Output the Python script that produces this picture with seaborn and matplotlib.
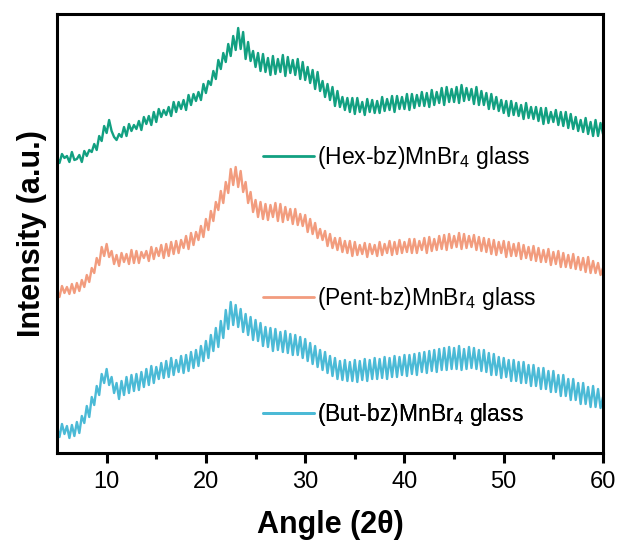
import numpy as np
import pandas as pd
import matplotlib
matplotlib.use("Agg")
import matplotlib.pyplot as plt
import seaborn as sns
from matplotlib.lines import Line2D

# ---- data (2theta grid 5..60 deg, step 0.25; intensities in a.u., stacked) ----
angle = np.round(np.arange(5.0, 60.001, 0.25), 2)

hex_glass = [
    296, 290, 299, 295,  297, 291, 301, 293,  294, 298, 291, 302,  297, 303, 301, 309,
    303, 317, 312, 327,  320, 333, 322, 316,  313, 319, 316, 326,  317, 329, 322, 328,
    324, 332, 323, 336,  329, 337, 328, 341,  331, 344, 336, 343,  338, 346, 337, 351,
    341, 351, 344, 353,  343, 358, 348, 359,  352, 361, 353, 369,  360, 372, 368, 382,
    374, 393, 384, 400,  391, 409, 397, 417,  403, 425, 404, 421,  394, 411, 392, 402,
    386, 400, 382, 399,  381, 395, 378, 397,  379, 394, 381, 398,  377, 396, 380, 393,
    378, 394, 374, 391,  373, 386, 370, 383,  364, 381, 362, 372,  356, 369, 353, 366,
    347, 362, 346, 356,  343, 355, 341, 355,  339, 355, 341, 351,  338, 354, 341, 353,
    340, 352, 340, 356,  342, 354, 343, 357,  341, 357, 344, 356,  344, 359, 343, 359,
    345, 358, 347, 361,  347, 360, 346, 363,  348, 361, 350, 365,  348, 366, 351, 364,
    351, 366, 350, 368,  352, 365, 353, 364,  349, 366, 348, 362,  348, 360, 344, 359,
    344, 356, 342, 353,  340, 352, 337, 352,  338, 350, 337, 348,  334, 350, 335, 346,
    334, 346, 332, 345,  329, 345, 330, 341,  331, 343, 328, 341,  327, 341, 325, 339,
    324, 336, 322, 333,  321, 335, 319, 331,  317, 333, 317, 330,  319,
]

pent_glass = [
    163, 156, 167, 160,  166, 159, 169, 160,  170, 162, 173, 166,  178, 171, 185, 180,
    195, 188, 206, 197,  209, 196, 202, 189,  198, 187, 200, 191,  199, 189, 203, 190,
    202, 190, 201, 195,  202, 192, 206, 194,  205, 197, 208, 195,  209, 197, 211, 199,
    212, 200, 213, 205,  217, 204, 220, 208,  221, 213, 227, 216,  234, 223, 242, 232,
    251, 243, 262, 250,  271, 260, 284, 268,  286, 266, 282, 261,  271, 250, 261, 241,
    253, 236, 251, 234,  249, 233, 248, 236,  250, 232, 249, 231,  246, 233, 244, 229,
    244, 228, 239, 227,  238, 221, 234, 219,  230, 215, 224, 213,  222, 207, 219, 205,
    215, 203, 215, 201,  212, 200, 212, 197,  211, 198, 208, 199,  210, 196, 209, 199,
    208, 197, 211, 198,  209, 200, 212, 198,  211, 199, 213, 200,  211, 201, 214, 200,
    214, 200, 212, 203,  215, 200, 216, 202,  214, 203, 217, 204,  218, 203, 219, 205,
    217, 206, 220, 204,  219, 205, 217, 206,  218, 203, 216, 202,  215, 201, 214, 199,
    213, 198, 211, 200,  212, 196, 211, 197,  209, 197, 210, 194,  208, 195, 206, 193,
    207, 192, 205, 191,  203, 191, 204, 188,  201, 189, 202, 186,  200, 186, 198, 185,
    199, 184, 196, 183,  195, 181, 196, 180,  192, 180, 190, 178,  185,
]

but_glass = [
    26, 16, 29, 19,  27, 15, 28, 17,  31, 20, 37, 30,  47, 36, 56, 48,
    67, 58, 79, 70,  84, 68, 76, 60,  70, 54, 72, 58,  76, 60, 78, 62,
    79, 63, 81, 66,  84, 68, 87, 70,  86, 74, 90, 75,  92, 76, 95, 78,
    93, 81, 97, 80,  98, 82, 101, 85,  103, 87, 107, 92,  112, 95, 118, 102,
    125, 106, 132, 115,  143, 124, 151, 128,  148, 126, 144, 121,  139, 118, 136, 113,
    133, 112, 130, 107,  126, 106, 125, 102,  124, 103, 121, 101,  122, 100, 119, 98,
    118, 98, 116, 95,  114, 92, 110, 89,  107, 86, 103, 83,  101, 80, 97, 77,
    95, 74, 92, 73,  93, 72, 91, 72,  93, 71, 92, 73,  94, 72, 93, 74,
    95, 74, 94, 75,  96, 74, 95, 76,  97, 76, 96, 78,  98, 77, 98, 79,
    99, 78, 100, 81,  101, 80, 102, 82,  103, 81, 104, 83,  105, 83, 106, 84,
    105, 84, 107, 83,  104, 84, 106, 85,  105, 84, 103, 82,  103, 81, 100, 78,
    99, 78, 96, 75,  95, 76, 93, 72,  93, 72, 91, 70,  91, 70, 88, 67,
    88, 67, 85, 64,  85, 64, 82, 61,  82, 61, 78, 57,  78, 57, 74, 53,
    74, 53, 70, 49,  70, 49, 66, 46,  67, 46, 64, 45,  56,
]

series_names = ["(Hex-bz)MnBr$_4$ glass", "(Pent-bz)MnBr$_4$ glass", "(But-bz)MnBr$_4$ glass"]
series_values = [hex_glass, pent_glass, but_glass]
colors = ["#12a081", "#f29c7e", "#4bbad6"]
x_ticks = [10, 20, 30, 40, 50, 60]

# ---- styling ----
sns.set_style("ticks")
plt.rcParams["font.family"] = ["Liberation Sans", "DejaVu Sans"]
plt.rcParams["mathtext.fontset"] = "custom"
plt.rcParams["mathtext.rm"] = "Liberation Sans"
plt.rcParams["mathtext.it"] = "Liberation Sans:italic"
plt.rcParams["mathtext.bf"] = "Liberation Sans:bold"
plt.rcParams["text.color"] = "black"
plt.rcParams["axes.labelcolor"] = "black"
plt.rcParams["xtick.color"] = "black"
plt.rcParams["ytick.color"] = "black"

fig = plt.figure(figsize=(6.2, 5.5), dpi=100)
ax = fig.add_axes([57 / 620, 97 / 550, 546 / 620, 439 / 550])

frames = []
for name, vals in zip(series_names, series_values):
    frames.append(pd.DataFrame({"angle": angle, "intensity": vals, "sample": name}))
df = pd.concat(frames, ignore_index=True)

for name, col in zip(series_names, colors):
    sub = df[df["sample"] == name]
    sns.lineplot(data=sub, x="angle", y="intensity", color=col, lw=1.7,
                 estimator=None, sort=False, ax=ax, legend=False)

ax.set_xlim(5, 60)
ax.set_ylim(0, 439)
ax.set_xticks(x_ticks)
ax.set_xticks([15, 25, 35, 45, 55], minor=True)
ax.set_yticks([])
ax.tick_params(axis="x", which="major", direction="out", length=7, width=2.2,
               labelsize=17, pad=6, colors="black")
ax.tick_params(axis="x", which="minor", direction="out", length=4, width=2.2)
for sp in ax.spines.values():
    sp.set_linewidth(2.2)
    sp.set_color("black")
    sp.set_visible(True)

ax.set_xlabel("Angle (2θ)", fontsize=22, fontweight="bold", labelpad=12)
ax.set_ylabel("Intensity (a.u.)", fontsize=22, fontweight="bold", labelpad=7)

# separate legend entries placed beside each trace
legend_y = [0.672, 0.353, 0.087]
for name, col, ly in zip(series_names, colors, legend_y):
    h = Line2D([], [], color=col, lw=2)
    leg = ax.legend([h], [name], loc="center left", bbox_to_anchor=(0.378, ly),
                    frameon=False, fontsize=16.5, handlelength=2.2, handletextpad=0.15,
                    borderpad=0, borderaxespad=0, labelcolor="black")
    ax.add_artist(leg)

fig.savefig("out.png", dpi=100)
